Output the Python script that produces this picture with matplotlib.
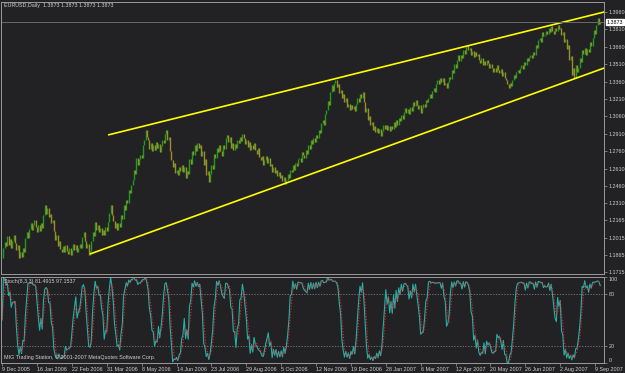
#
# EURUSD daily chart with trend channel and stochastic, MT4 style
#
import numpy as np
import pandas as pd
import matplotlib
matplotlib.use("Agg")
import matplotlib.pyplot as plt

plt.rcParams['font.family'] = ['Liberation Sans', 'DejaVu Sans']

symbol_title = "EURUSD,Daily  1.3873 1.3873 1.3873 1.3873"
stoch_title = "Stoch(8,3,3) 81.4915 97.1537"
copyright_text = "MIG Trading Station, \u00a9 2001-2007 MetaQuotes Software Corp."

# daily closes (bar 0 = 9 Dec 2005)
close = [
    1.1840, 1.1925, 1.1980, 1.1945, 1.2029, 1.1952, 1.2005, 1.1930, 1.1985, 1.2037,
    1.1965, 1.1908, 1.1950, 1.1840, 1.1895, 1.1850, 1.1930, 1.1890, 1.2010, 1.2064,
    1.2015, 1.2090, 1.2140, 1.2080, 1.2125, 1.2170, 1.2110, 1.2060, 1.2120, 1.2070,
    1.2140, 1.2100, 1.2210, 1.2296, 1.2220, 1.2270, 1.2190, 1.2220, 1.2140, 1.2165,
    1.2075, 1.1995, 1.2040, 1.1943, 1.1990, 1.1920, 1.1891, 1.1945, 1.1895, 1.1950,
    1.1900, 1.1870, 1.1930, 1.1866, 1.1910, 1.1960, 1.1905, 1.1950, 1.1890, 1.1925,
    1.1960, 1.1925, 1.2020, 1.2064, 1.1990, 1.1926, 1.1960, 1.1866, 1.1900, 1.1985,
    1.2064, 1.2030, 1.2150, 1.2085, 1.2124, 1.2060, 1.2095, 1.2037, 1.2080, 1.2040,
    1.2110, 1.2070, 1.2150, 1.2230, 1.2296, 1.2210, 1.2160, 1.2098, 1.2140, 1.2081,
    1.2140, 1.2110, 1.2210, 1.2175, 1.2296, 1.2250, 1.2340, 1.2310, 1.2426, 1.2400,
    1.2470, 1.2512, 1.2598, 1.2560, 1.2701, 1.2640, 1.2690, 1.2727, 1.2700, 1.2813,
    1.2860, 1.2943, 1.2880, 1.2857, 1.2780, 1.2830, 1.2760, 1.2810, 1.2770, 1.2840,
    1.2790, 1.2820, 1.2750, 1.2805, 1.2860, 1.2830, 1.2910, 1.2943, 1.2857, 1.2880,
    1.2760, 1.2684, 1.2620, 1.2660, 1.2570, 1.2600, 1.2555, 1.2620, 1.2590, 1.2640,
    1.2581, 1.2620, 1.2529, 1.2590, 1.2560, 1.2690, 1.2650, 1.2760, 1.2727, 1.2813,
    1.2760, 1.2830, 1.2790, 1.2810, 1.2720, 1.2760, 1.2641, 1.2690, 1.2555, 1.2590,
    1.2495, 1.2560, 1.2641, 1.2610, 1.2740, 1.2700, 1.2790, 1.2750, 1.2813, 1.2760,
    1.2720, 1.2810, 1.2780, 1.2870, 1.2900, 1.2840, 1.2880, 1.2790, 1.2830, 1.2770,
    1.2820, 1.2790, 1.2857, 1.2830, 1.2880, 1.2850, 1.2910, 1.2870, 1.2820, 1.2857,
    1.2800, 1.2840, 1.2770, 1.2813, 1.2780, 1.2830, 1.2770, 1.2740, 1.2790, 1.2710,
    1.2684, 1.2720, 1.2641, 1.2680, 1.2720, 1.2660, 1.2700, 1.2630, 1.2650, 1.2581,
    1.2620, 1.2570, 1.2600, 1.2550, 1.2580, 1.2529, 1.2555, 1.2500, 1.2540, 1.2480,
    1.2510, 1.2560, 1.2530, 1.2600, 1.2581, 1.2640, 1.2600, 1.2660, 1.2630, 1.2690,
    1.2701, 1.2670, 1.2750, 1.2727, 1.2700, 1.2770, 1.2740, 1.2810, 1.2780, 1.2857,
    1.2820, 1.2870, 1.2839, 1.2900, 1.2870, 1.2943, 1.2920, 1.3000, 1.3029, 1.2990,
    1.3080, 1.3115, 1.3190, 1.3160, 1.3270, 1.3331, 1.3280, 1.3350, 1.3374, 1.3310,
    1.3340, 1.3260, 1.3290, 1.3215, 1.3250, 1.3180, 1.3220, 1.3140, 1.3170, 1.3115,
    1.3160, 1.3120, 1.3150, 1.3110, 1.3170, 1.3219, 1.3180, 1.3250, 1.3220, 1.3270,
    1.3180, 1.3098, 1.3130, 1.3029, 1.3060, 1.2985, 1.3010, 1.2940, 1.2980, 1.2926,
    1.2960, 1.2915, 1.2950, 1.2890, 1.2935, 1.2990, 1.2950, 1.2986, 1.2940, 1.2975,
    1.2930, 1.2980, 1.2950, 1.3010, 1.2970, 1.3030, 1.2990, 1.3050, 1.3020, 1.3070,
    1.3040, 1.3098, 1.3130, 1.3090, 1.3120, 1.3080, 1.3140, 1.3110, 1.3180, 1.3150,
    1.3201, 1.3160, 1.3120, 1.3158, 1.3090, 1.3132, 1.3170, 1.3140, 1.3200, 1.3180,
    1.3219, 1.3250, 1.3220, 1.3280, 1.3305, 1.3270, 1.3340, 1.3374, 1.3340, 1.3391,
    1.3360, 1.3390, 1.3330, 1.3350, 1.3305, 1.3360, 1.3400, 1.3380, 1.3460, 1.3430,
    1.3510, 1.3480, 1.3545, 1.3590, 1.3540, 1.3589, 1.3560, 1.3630, 1.3600, 1.3665,
    1.3676, 1.3630, 1.3650, 1.3590, 1.3620, 1.3570, 1.3615, 1.3580, 1.3600, 1.3546,
    1.3520, 1.3560, 1.3503, 1.3540, 1.3500, 1.3546, 1.3520, 1.3480, 1.3510, 1.3477,
    1.3440, 1.3480, 1.3443, 1.3503, 1.3460, 1.3430, 1.3470, 1.3410, 1.3440, 1.3390,
    1.3374, 1.3340, 1.3305, 1.3350, 1.3320, 1.3374, 1.3420, 1.3390, 1.3440, 1.3460,
    1.3430, 1.3480, 1.3503, 1.3470, 1.3529, 1.3500, 1.3563, 1.3540, 1.3570, 1.3589,
    1.3560, 1.3615, 1.3590, 1.3676, 1.3650, 1.3720, 1.3736, 1.3700, 1.3788, 1.3750,
    1.3762, 1.3800, 1.3770, 1.3822, 1.3790, 1.3839, 1.3800, 1.3770, 1.3825, 1.3800,
    1.3848, 1.3810, 1.3822, 1.3760, 1.3790, 1.3700, 1.3730, 1.3640, 1.3676, 1.3546,
    1.3580, 1.3417, 1.3480, 1.3391, 1.3503, 1.3440, 1.3477, 1.3563, 1.3530, 1.3632,
    1.3600, 1.3650, 1.3590, 1.3640, 1.3615, 1.3701, 1.3670, 1.3736, 1.3805, 1.3770,
    1.3848, 1.3908, 1.3860, 1.3873,
]
last_price = 1.3873

date_labels = ["9 Dec 2005", "16 Jan 2006", "22 Feb 2006", "31 Mar 2006", "8 May 2006",
               "14 Jun 2006", "23 Jul 2006", "29 Aug 2006", "5 Oct 2006", "12 Nov 2006",
               "19 Dec 2006", "28 Jan 2007", "6 Mar 2007", "12 Apr 2007", "20 May 2007",
               "26 Jun 2007", "2 Aug 2007", "9 Sep 2007"]
bars_per_label = 27

price_ticks = [1.3960, 1.3810, 1.3660, 1.3510, 1.3360, 1.3210, 1.3060, 1.2910,
               1.2760, 1.2610, 1.2460, 1.2310, 1.2165, 1.2015, 1.1865, 1.1715]

# channel lines: (bar, price) anchors
upper_bar = [82, 466]
upper_price = [1.2900, 1.3960]
lower_bar = [68, 466]
lower_price = [1.1874, 1.3477]

stoch_levels = [20, 80]
stoch_ticks = [0, 20, 80, 100]

# ---------------------------------------------------------------
bg = '#222124'
fg = '#cfcfcf'
frame = '#9a9a9a'
fs = 3.9

c = np.array(close)
n = len(c)
idx = np.arange(n)
o = np.concatenate([[c[0]], c[:-1]])
hi = np.maximum(o, c)
lo = np.minimum(o, c)
up = c >= o

# stochastic 8,3,3 (MT4 style slowing)
s_c, s_h, s_l = pd.Series(c), pd.Series(hi), pd.Series(lo)
ll = s_l.rolling(8, min_periods=1).min()
hh = s_h.rolling(8, min_periods=1).max()
num = (s_c - ll).rolling(3, min_periods=1).sum()
den = (hh - ll).rolling(3, min_periods=1).sum().replace(0, np.nan)
k_main = (100 * num / den).fillna(50)
k_signal = k_main.rolling(3, min_periods=1).mean()

W, H = 625, 373
fig = plt.figure(figsize=(W / 100, H / 100), dpi=100, facecolor=bg)

x0, x1 = 1.5, 604
ax = fig.add_axes([x0 / W, 1 - 274 / H, (x1 - x0) / W, 272 / H], facecolor=bg)
ax2 = fig.add_axes([x0 / W, 1 - 363 / H, (x1 - x0) / W, 86 / H], facecolor=bg)

xlim = (-0.5, 465.9)
y_top, y_bot = 1.40462, 1.17016

# price bars
ax.vlines(idx[up], lo[up], hi[up], colors='#1c9e1c', linewidth=1.0)
ax.vlines(idx[~up], lo[~up], hi[~up], colors='#a08a2c', linewidth=1.0)

# channel
for bx, py in ((upper_bar, upper_price), (lower_bar, lower_price)):
    ax.plot(bx, py, color='#ffff00', lw=1.2, solid_capstyle='butt')

ax.axhline(last_price, color='#6a6a6a', lw=0.7)

ax.set_xlim(*xlim)
ax.set_ylim(y_bot, y_top)
ax.set_xticks([])
ax.yaxis.tick_right()
ax.set_yticks(price_ticks)
ax.set_yticklabels([f"{p:.4f}" for p in price_ticks])
ax.tick_params(axis='y', length=2, width=0.5, color=frame, labelsize=fs,
               labelcolor=fg, pad=1.5)
for sp in ax.spines.values():
    sp.set_color(frame)
    sp.set_linewidth(0.7)

ax.text(1.004, last_price, f"{last_price:.4f}", transform=ax.get_yaxis_transform(),
        fontsize=fs, color='black', va='center', ha='left',
        bbox=dict(boxstyle='square,pad=0.15', fc='white', ec='white'))

# stochastic panel
for lv in stoch_levels:
    ax2.axhline(lv, color='#8a8a8a', lw=0.5, linestyle=(0, (2, 2)))
ax2.plot(idx, k_main, color='#20b2aa', lw=0.8)
ax2.plot(idx, k_signal, color='#ff2020', lw=0.8, linestyle=(0, (1, 1.6)))
ax2.set_xlim(*xlim)
ax2.set_ylim(0, 100)
ax2.yaxis.tick_right()
ax2.set_yticks(stoch_ticks)
ax2.set_yticklabels([str(t) for t in stoch_ticks])
ax2.tick_params(axis='y', length=2, width=0.5, color=frame, labelsize=fs,
                labelcolor=fg, pad=1.5)
lbls = ax2.get_yticklabels()
lbls[0].set_va('bottom')
lbls[-1].set_va('top')

ax2.set_xticks(np.arange(len(date_labels)) * bars_per_label)
ax2.set_xticklabels(date_labels)
ax2.tick_params(axis='x', length=2, width=0.5, color=frame, labelsize=fs,
                labelcolor=fg, pad=1)
for t in ax2.get_xticklabels():
    t.set_ha('left')
for sp in ax2.spines.values():
    sp.set_color(frame)
    sp.set_linewidth(0.7)

fig.text(4 / W, 1 - 6 / H, symbol_title, fontsize=fs, color=fg, va='center', ha='left')
fig.text(4 / W, 1 - 281 / H, stoch_title, fontsize=fs, color=fg, va='center', ha='left')
fig.text(4 / W, 1 - 357 / H, copyright_text, fontsize=fs, color=fg, va='center', ha='left')

fig.savefig("out.png", dpi=100, facecolor=bg)
